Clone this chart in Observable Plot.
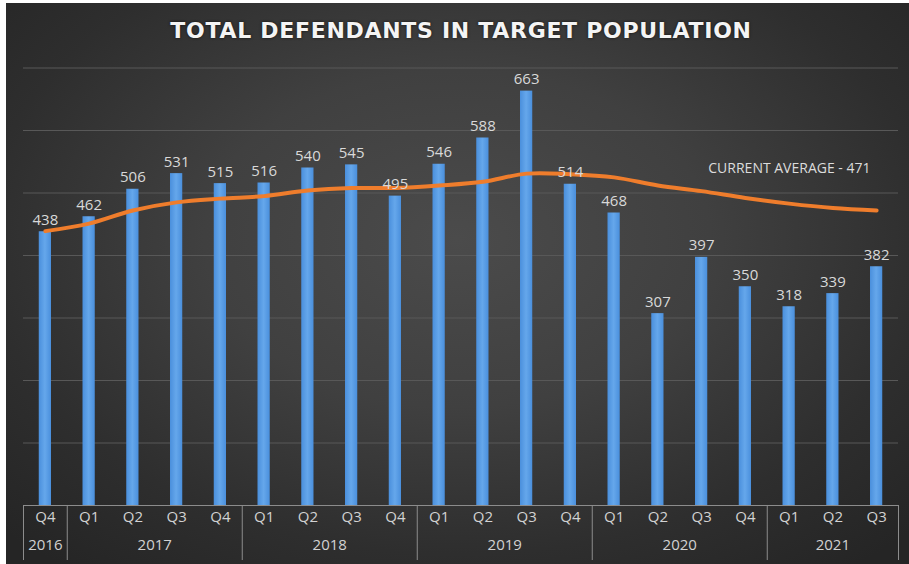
<!DOCTYPE html>
<html><head><meta charset="utf-8">
<script src="https://cdn.jsdelivr.net/npm/d3@7"></script>
<script src="https://cdn.jsdelivr.net/npm/@observablehq/plot@0.6"></script>
<style>
html,body{margin:0;padding:0;background:#fff;}
#chart{position:absolute;left:6px;top:3px;width:903px;height:561px;overflow:hidden;
  background:radial-gradient(ellipse 70% 75% at 50% 42%, #4b4b4b 0%, #404040 40%, #2e2e2e 75%, #252525 100%);}
#title{height:47px;line-height:56px;text-align:center;color:#f4f4f4;font-family:"DejaVu Sans",sans-serif;font-weight:bold;font-size:22px;letter-spacing:0.7px;text-shadow:0 0 3px rgba(0,0,0,0.7);padding-left:7px;}
</style></head>
<body>
<div id="chart"><div id="title">TOTAL DEFENDANTS IN TARGET POPULATION</div></div>
<script>
const quarters = ["Q4","Q1","Q2","Q3","Q4","Q1","Q2","Q3","Q4","Q1","Q2","Q3","Q4","Q1","Q2","Q3","Q4","Q1","Q2","Q3"];
const defendants = [438,462,506,531,515,516,540,545,495,546,588,663,514,468,307,397,350,318,339,382];
const runningAverage = [439,451,472,485,491,495,504,508,508,512,518,531,530,525,512,503,492,483,476,472];
const yearLabels = ["2016","2017","2018","2019","2020","2021"];
const quartersPerYear = [1,4,4,4,4,3];
const gridValues = [100,200,300,400,500,600,700];
const annotation = ["CURRENT AVERAGE - 471"];

const rows = defendants.map((v, i) => ({i, value: v, avg: runningAverage[i], q: quarters[i]}));
let start = 0;
const years = yearLabels.map((y, k) => {
  const g = {year: y, first: start, last: start + quartersPerYear[k] - 1};
  start += quartersPerYear[k];
  return g;
});
const boundaries = [-0.5, ...years.map(g => g.last + 0.5)];

const labelFont = "'Open Sans', sans-serif";
const chart = Plot.plot({
  width: 903,
  height: 514,
  marginLeft: 17,
  marginRight: 11,
  marginTop: 17.5,
  marginBottom: 59,
  style: {background: "transparent", overflow: "visible"},
  x: {type: "linear", domain: [-0.5, rows.length - 0.5], axis: null},
  y: {domain: [0, 700], axis: null},
  marks: [
    Plot.ruleY(gridValues, {stroke: "#585858", strokeWidth: 1}),
    Plot.rectY(rows, {x1: d => d.i - 0.14, x2: d => d.i + 0.14, y: "value", fill: "url(#barGrad)"}),
    Plot.line(rows, {x: "i", y: "avg", stroke: "#ef7d2c", strokeWidth: 4, curve: "catmull-rom", strokeLinecap: "round"}),
    Plot.text(rows, {x: "i", y: "value", text: d => String(d.value), lineAnchor: "bottom", dy: -7, fill: "#d9d9d9", fontSize: 15, fontFamily: labelFont}),
    Plot.ruleY([0], {stroke: "#8c8c8c", strokeWidth: 1}),
    Plot.ruleX(boundaries, {x: d => d, y1: 0, y2: 0, insetBottom: -55, stroke: "#8c8c8c", strokeWidth: 1}),
    Plot.text(rows, {x: "i", text: "q", frameAnchor: "bottom", dy: 16, fill: "#d2d2d2", fontSize: 15, fontFamily: labelFont}),
    Plot.text(years, {x: d => (d.first + d.last) / 2, text: "year", frameAnchor: "bottom", dy: 44.5, fill: "#d2d2d2", fontSize: 15, fontFamily: labelFont}),
    Plot.text(annotation, {text: d => d, frameAnchor: "top-right", textAnchor: "end", dx: -28, dy: 95.5, fill: "#dcdcdc", fontSize: 14, fontFamily: labelFont})
  ]
});
const defs = d3.select(chart).insert("defs", ":first-child");
const grad = defs.append("linearGradient").attr("id", "barGrad").attr("x1", 0).attr("x2", 1).attr("y1", 0).attr("y2", 0);
grad.append("stop").attr("offset", "0%").attr("stop-color", "#4a8fdc");
grad.append("stop").attr("offset", "50%").attr("stop-color", "#65a7eb");
grad.append("stop").attr("offset", "100%").attr("stop-color", "#4a8fdc");
document.getElementById("chart").appendChild(chart);
</script>
</body></html>
